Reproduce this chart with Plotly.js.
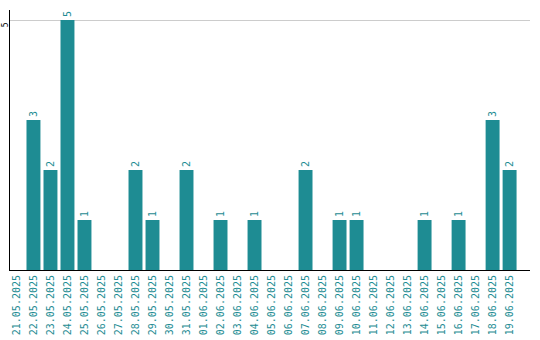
<!DOCTYPE html>
<html>
<head>
<meta charset="utf-8">
<script src="https://cdn.plot.ly/plotly-3.0.1.min.js"></script>
<style>html,body{margin:0;padding:0;background:#fff;}#chart{width:540px;height:340px;}</style>
</head>
<body>
<div id="chart"></div>
<script>
const dates = ["21.05.2025","22.05.2025","23.05.2025","24.05.2025","25.05.2025","26.05.2025","27.05.2025","28.05.2025","29.05.2025","30.05.2025","31.05.2025","01.06.2025","02.06.2025","03.06.2025","04.06.2025","05.06.2025","06.06.2025","07.06.2025","08.06.2025","09.06.2025","10.06.2025","11.06.2025","12.06.2025","13.06.2025","14.06.2025","15.06.2025","16.06.2025","17.06.2025","18.06.2025","19.06.2025"];
const counts = [0,3,2,5,1,0,0,2,1,0,2,0,1,0,1,0,0,2,0,1,1,0,0,0,1,0,1,0,3,2];
const yTicks = [5];
const teal = "#1e8c93";
const labels = counts.map(v => v > 0 ? String(v) : "");
Plotly.newPlot("chart", [{
  type: "bar",
  x: dates,
  y: counts,
  text: labels,
  textposition: "outside",
  textangle: -90,
  textfont: {family: "DejaVu Sans Mono", size: 10, color: teal},
  cliponaxis: false,
  marker: {color: teal},
  hoverinfo: "none"
}], {
  width: 540, height: 340,
  margin: {l: 10, r: 10, t: 10, b: 70, pad: 0},
  paper_bgcolor: "#fff", plot_bgcolor: "#fff",
  bargap: 0.18,
  showlegend: false,
  font: {family: "DejaVu Sans Mono", size: 10, color: teal},
  xaxis: {
    type: "category",
    range: [-0.38, 30.2],
    tickangle: -90,
    showline: true, linecolor: "#000", linewidth: 1,
    showgrid: false, ticks: "",
    tickfont: {family: "DejaVu Sans Mono", size: 10, color: teal}
  },
  yaxis: {
    range: [0, 5.2],
    tickvals: yTicks,
    ticktext: yTicks.map(String),
    tickangle: -90,
    ticklabelstandoff: -2,
    ticklabelshift: 6,
    showline: true, linecolor: "#000", linewidth: 1,
    showgrid: true, gridcolor: "#cccccc",
    zeroline: false, ticks: "",
    tickfont: {family: "DejaVu Sans Mono", size: 8, color: "#000"}
  }
}, {displayModeBar: false, staticPlot: true});
</script>
</body>
</html>
